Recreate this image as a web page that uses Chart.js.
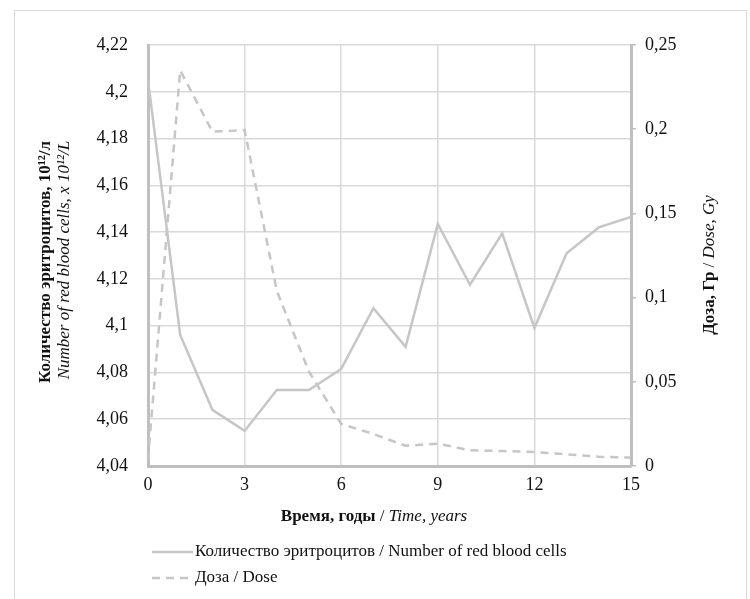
<!DOCTYPE html>
<html>
<head>
<meta charset="utf-8">
<script src="https://cdn.jsdelivr.net/npm/chart.js@4"></script>
<style>
  body { margin: 0; background: #fff; }
  #wrap { width: 750px; height: 599px; position: relative; }
</style>
</head>
<body>
<div id="wrap"><canvas id="rbcChart"></canvas></div>
<script>
// --- DATA ---
const years = [0, 1, 2, 3, 4, 5, 6, 7, 8, 9, 10, 11, 12, 13, 14, 15];
const redCells = [4.205, 4.096, 4.064, 4.055, 4.0725, 4.0725, 4.0815, 4.1075,
  4.091, 4.1435, 4.1175, 4.1395, 4.099, 4.131, 4.142, 4.1465];
const dose = [0.004, 0.235, 0.1985, 0.1995, 0.104, 0.056, 0.025, 0.019,
  0.012, 0.0133, 0.0093, 0.0089, 0.0083, 0.0069, 0.0055, 0.005];

const xTickLabels = ["0", "3", "6", "9", "12", "15"];
const leftTickLabels = ["4,04", "4,06", "4,08", "4,1", "4,12", "4,14", "4,16", "4,18", "4,2", "4,22"];
const rightTickLabels = ["0", "0,05", "0,1", "0,15", "0,2", "0,25"];

const legendLabels = ["Количество эритроцитов / Number of red blood cells", "Доза / Dose"];

// --- STYLE ---
const SERIF = "'Liberation Serif', 'Times New Roman', serif";
const LINE = "#c6c6c6";
const GRID = "#d9d9d9";
const AXIS = "#bfbfbf";
const TEXT = "#111";

// draws a run of text pieces with different fonts, centred on (x, y)
function drawMixed(ctx, parts, x, y, angle) {
  ctx.save();
  ctx.translate(x, y);
  ctx.rotate(angle || 0);
  ctx.textBaseline = "middle";
  ctx.textAlign = "left";
  ctx.fillStyle = TEXT;
  let total = 0;
  parts.forEach((p) => { ctx.font = p.font; p.w = ctx.measureText(p.text).width; total += p.w; });
  let cx = -total / 2;
  parts.forEach((p) => { ctx.font = p.font; ctx.fillText(p.text, cx, 0); cx += p.w; });
  ctx.restore();
}

const decorPlugin = {
  id: "decor",
  afterDraw(chart) {
    const ctx = chart.ctx;
    const bold = `bold 17px ${SERIF}`;
    const ital = `italic 17px ${SERIF}`;
    const norm = `17px ${SERIF}`;

    // chart frame
    ctx.save();
    ctx.strokeStyle = "#d9d9d9";
    ctx.lineWidth = 1;
    ctx.strokeRect(14.5, 10.5, 732, 600);
    ctx.restore();

    // axis titles
    drawMixed(ctx, [{ text: "Время, годы", font: bold }, { text: " / ", font: norm }, { text: "Time, years", font: ital }], 374, 517);
    drawMixed(ctx, [{ text: "Количество эритроцитов, 10¹²/л", font: bold }], 46, 262, -Math.PI / 2);
    drawMixed(ctx, [{ text: "Number of red blood cells, x 10¹²/L", font: ital }], 65, 260, -Math.PI / 2);
    drawMixed(ctx, [{ text: "Доза, Гр", font: bold }, { text: " / ", font: norm }, { text: "Dose, Gy", font: ital }], 710, 265, -Math.PI / 2);

    // legend
    const rows = [552, 578];
    rows.forEach((y, i) => {
      ctx.save();
      ctx.strokeStyle = LINE;
      ctx.lineWidth = 2.5;
      ctx.setLineDash(i === 1 ? [8, 6] : []);
      ctx.beginPath();
      ctx.moveTo(152, y);
      ctx.lineTo(193, y);
      ctx.stroke();
      ctx.restore();
      ctx.save();
      ctx.font = norm;
      ctx.fillStyle = TEXT;
      ctx.textBaseline = "middle";
      ctx.fillText(legendLabels[i], 195, y);
      ctx.restore();
    });
  },
};

function initChart() {
  const ctx = document.getElementById("rbcChart");
  const tickFont = { family: SERIF, size: 18 };

  new Chart(ctx, {
    type: "line",
    data: {
      datasets: [
        {
          label: legendLabels[0],
          data: years.map((x, i) => ({ x, y: redCells[i] })),
          yAxisID: "y",
          borderColor: LINE,
          borderWidth: 2.5,
          pointRadius: 0,
          tension: 0,
        },
        {
          label: legendLabels[1],
          data: years.map((x, i) => ({ x, y: dose[i] })),
          yAxisID: "y1",
          borderColor: LINE,
          borderWidth: 2.5,
          borderDash: [8, 6],
          pointRadius: 0,
          tension: 0,
        },
      ],
    },
    options: {
      responsive: true,
      maintainAspectRatio: false,
      animation: false,
      layout: { padding: { top: 45, left: 0, right: 0, bottom: 0 } },
      plugins: { legend: { display: false }, tooltip: { enabled: false } },
      scales: {
        x: {
          type: "linear",
          min: 0,
          max: 15,
          afterFit: (s) => { s.height = 133; },
          ticks: { stepSize: 3, font: tickFont, color: TEXT, padding: 8,
            callback: (v, i) => xTickLabels[i] },
          grid: { color: GRID, lineWidth: 1.5, drawTicks: false },
          border: { color: AXIS, width: 3 },
        },
        y: {
          position: "left",
          min: 4.04,
          max: 4.22,
          afterFit: (s) => { s.width = 148; },
          ticks: { stepSize: 0.02, font: tickFont, color: TEXT, padding: 20,
            callback: (v, i) => leftTickLabels[i] },
          grid: { color: GRID, lineWidth: 1.5, drawTicks: false },
          border: { color: AXIS, width: 3 },
        },
        y1: {
          position: "right",
          min: 0,
          max: 0.25,
          afterFit: (s) => { s.width = 119; },
          ticks: { stepSize: 0.05, font: tickFont, color: TEXT, padding: 9,
            callback: (v, i) => rightTickLabels[i] },
          grid: { drawOnChartArea: false, color: AXIS, tickColor: AXIS, tickLength: 5, lineWidth: 1.5 },
          border: { color: AXIS, width: 3 },
        },
      },
    },
    plugins: [decorPlugin],
  });
}

document.addEventListener("DOMContentLoaded", initChart);
</script>
</body>
</html>
